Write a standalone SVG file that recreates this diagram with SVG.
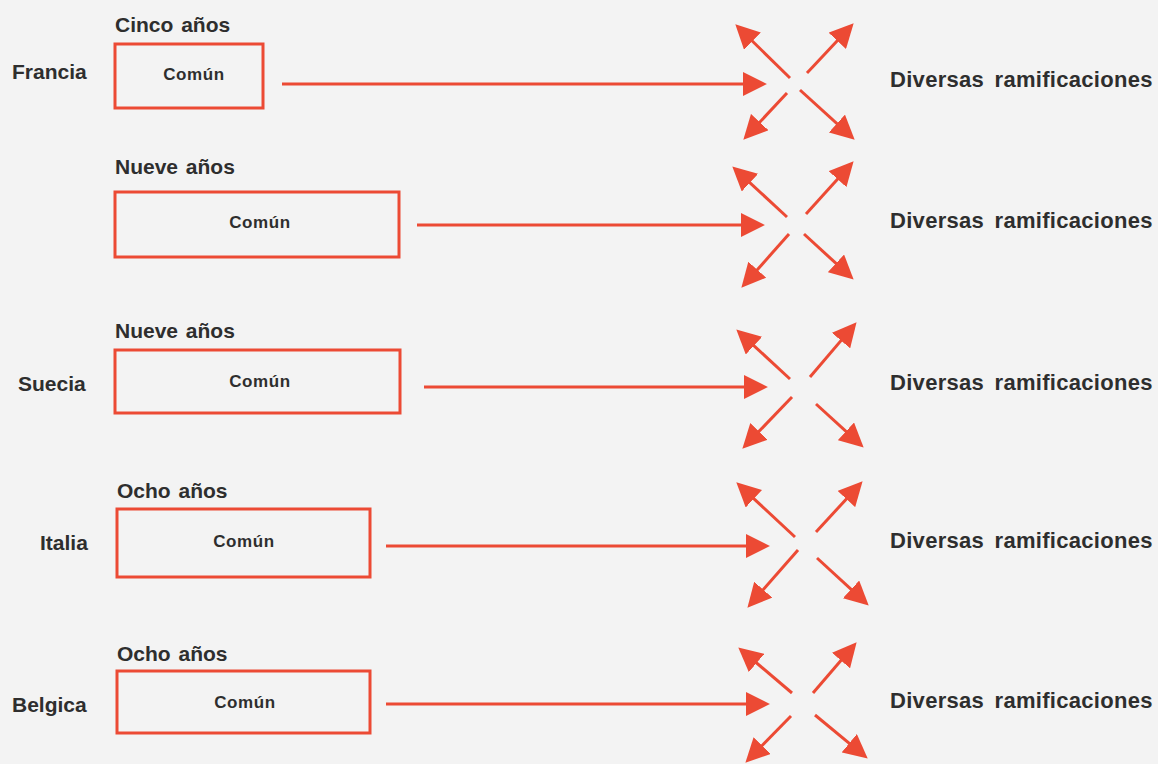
<svg xmlns="http://www.w3.org/2000/svg" width="1158" height="764" viewBox="0 0 1158 764">
  <defs>
    <style>
      .box { fill: none; stroke: #ec4a34; stroke-width: 3; }
      .ln { fill: none; stroke: #ec4a34; stroke-width: 3; marker-end: url(#ah); }
      .t { font-family: "Liberation Sans", Arial, sans-serif; font-weight: bold; fill: #2e2e2e; }
      .yr { font-size: 21px; word-spacing: 2px; }
      .ctry { font-size: 21px; }
      .com { font-size: 17px; letter-spacing: 0.6px; text-anchor: middle; }
      .div { font-size: 22px; letter-spacing: 0.3px; word-spacing: 4px; }
    </style>
    <marker id="ah" markerUnits="userSpaceOnUse" markerWidth="24" markerHeight="24" viewBox="0 0 22 22" refX="12" refY="11" orient="auto">
      <path d="M0,0 L22,11 L0,22 Z" fill="#ec4a34"/>
    </marker>
  </defs>
  <rect width="1158" height="764" fill="#f3f3f3"/>

  <g id="francia">
    <text class="t yr" x="115" y="32">Cinco años</text>
    <text class="t ctry" x="12" y="79">Francia</text>
    <rect class="box" x="115" y="44" width="148" height="64"/>
    <text class="t com" x="194" y="80">Común</text>
  </g>
  <g id="nueve">
    <text class="t yr" x="115" y="174">Nueve años</text>
    <rect class="box" x="115" y="192" width="284" height="65"/>
    <text class="t com" x="260" y="228">Común</text>
  </g>
  <g id="suecia">
    <text class="t yr" x="115" y="338">Nueve años</text>
    <text class="t ctry" x="18" y="391">Suecia</text>
    <rect class="box" x="115" y="350" width="285" height="63"/>
    <text class="t com" x="260" y="387">Común</text>
  </g>
  <g id="italia">
    <text class="t yr" x="117" y="498">Ocho años</text>
    <text class="t ctry" x="40" y="550">Italia</text>
    <rect class="box" x="117" y="509" width="253" height="68"/>
    <text class="t com" x="244" y="547">Común</text>
  </g>
  <g id="belgica">
    <text class="t yr" x="117" y="661">Ocho años</text>
    <text class="t ctry" x="12" y="712">Belgica</text>
    <rect class="box" x="117" y="671" width="253" height="62"/>
    <text class="t com" x="245" y="708">Común</text>
  </g>

  <g id="ramificaciones">
    <text class="t div" x="890" y="87">Diversas ramificaciones</text>
    <text class="t div" x="890" y="228">Diversas ramificaciones</text>
    <text class="t div" x="890" y="390">Diversas ramificaciones</text>
    <text class="t div" x="890" y="548">Diversas ramificaciones</text>
    <text class="t div" x="890" y="708">Diversas ramificaciones</text>
  </g>

  <g id="connectors">
    <line class="ln" x1="282" y1="84" x2="756" y2="84"/>
    <line class="ln" x1="790" y1="78" x2="743.1" y2="32"/>
    <line class="ln" x1="807" y1="73" x2="846.2" y2="31.3"/>
    <line class="ln" x1="787" y1="93" x2="750.8" y2="131.7"/>
    <line class="ln" x1="800" y1="90" x2="846.6" y2="132.3"/>

    <line class="ln" x1="417" y1="225" x2="754" y2="225"/>
    <line class="ln" x1="787" y1="217" x2="740.3" y2="173.8"/>
    <line class="ln" x1="806" y1="214" x2="846.3" y2="169.4"/>
    <line class="ln" x1="789" y1="234" x2="748.6" y2="279.5"/>
    <line class="ln" x1="804" y1="234" x2="845.6" y2="272.2"/>

    <line class="ln" x1="424" y1="387" x2="757" y2="387"/>
    <line class="ln" x1="790" y1="379" x2="744.3" y2="336.8"/>
    <line class="ln" x1="810" y1="377" x2="849.5" y2="330.6"/>
    <line class="ln" x1="792" y1="397" x2="749.9" y2="440.8"/>
    <line class="ln" x1="816" y1="404" x2="855.6" y2="440.2"/>

    <line class="ln" x1="386" y1="546" x2="759" y2="546"/>
    <line class="ln" x1="795" y1="537" x2="744.3" y2="489.8"/>
    <line class="ln" x1="816" y1="532" x2="855.2" y2="489.4"/>
    <line class="ln" x1="798" y1="550" x2="754.6" y2="599.5"/>
    <line class="ln" x1="817" y1="558" x2="860.7" y2="598.2"/>

    <line class="ln" x1="386" y1="704" x2="759" y2="704"/>
    <line class="ln" x1="792" y1="693" x2="746.6" y2="654.5"/>
    <line class="ln" x1="813" y1="693" x2="849.5" y2="650.6"/>
    <line class="ln" x1="791" y1="716" x2="753" y2="754.9"/>
    <line class="ln" x1="815" y1="715" x2="859.3" y2="751.6"/>
  </g>
</svg>
